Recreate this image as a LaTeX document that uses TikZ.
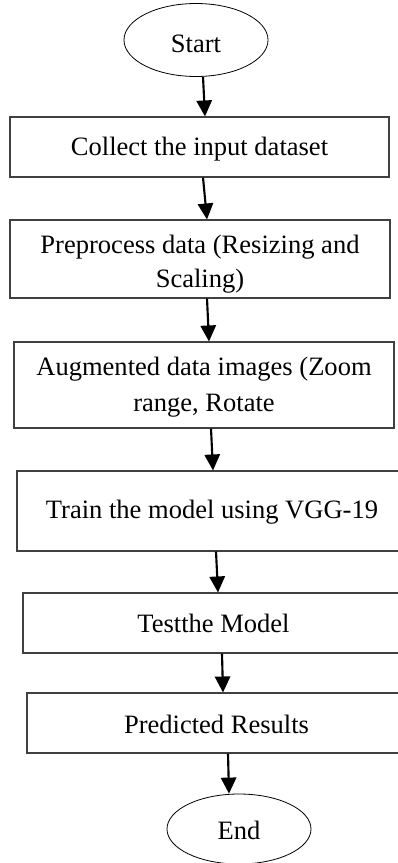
\documentclass[tikz,border=0pt]{standalone}
\usepackage{fontspec}
\setmainfont{Liberation Serif}
\usetikzlibrary{arrows.meta,calc,shapes.geometric}

\tikzset{
  stepbox/.style={draw=black!75, line width=0.8pt, rectangle, inner sep=0pt},
  terminal/.style={draw=black, line width=0.6pt, ellipse, inner sep=0pt},
  steptext/.style={inner sep=0pt, align=center, font=\fontsize{19.9}{26.5}\selectfont},
  flow/.style={line width=1.6pt, -{Triangle[length=12pt,width=11.5pt]}}
}

\begin{document}
\begin{tikzpicture}[x=0.75pt, y=-0.75pt]
  \clip (0,0) rectangle (398,863);
  \useasboundingbox (0,0) rectangle (398,863);

  % start / end terminals
  \node[terminal, minimum width=144*0.75pt, minimum height=73*0.75pt] (start) at (196,40) {};
  \node[terminal, minimum width=144*0.75pt, minimum height=70*0.75pt] (finish) at (239,829) {};

  % process steps
  \node[stepbox, minimum width=379*0.75pt, minimum height=60*0.75pt] (collect) at (199.5,147) {};
  \node[stepbox, minimum width=380*0.75pt, minimum height=78*0.75pt] (prep) at (200,259) {};
  \node[stepbox, minimum width=380*0.75pt, minimum height=86*0.75pt] (augment) at (204,385) {};
  \node[stepbox, minimum width=390*0.75pt, minimum height=80*0.75pt] (train) at (212,511) {};
  \node[stepbox, minimum width=381*0.75pt, minimum height=60*0.75pt] (test) at (213.5,623) {};
  \node[stepbox, minimum width=379*0.75pt, minimum height=60*0.75pt] (predict) at (216.5,723) {};

  % labels
  \node[steptext] (startlbl) at ($(start.center)+(0,4)$) {Start};
  \node[steptext] (finishlbl) at ($(finish.center)+(0,1)$) {End};
  \node[steptext] (collectlbl) at ($(collect.center)+(0,2)$) {Collect the input dataset};
  \node[steptext, font=\fontsize{19.9}{25.5}\selectfont] (preplbl) at ($(prep.center)+(0,5)$)
    {Preprocess data (Resizing and\\Scaling)};
  \node[steptext] (augmentlbl) at ($(augment.center)+(0,2)$) {Augmented data images (Zoom\\range, Rotate};
  \node[steptext] (trainlbl) at ($(train.center)+(0,1)$) {Train the model using VGG-19};
  \node[steptext] (testlbl) at (test.center) {Testthe Model};
  \node[steptext] (predictlbl) at ($(predict.center)+(0,1)$) {Predicted Results};

  % connectors
  \draw[flow] ($(start.south)+(7,0)$) -- ($(collect.north)+(5.5,0)$);
  \draw[flow] ($(collect.south)+(3.5,0)$) -- ($(prep.north)+(7,0)$);
  \draw[flow] ($(prep.south)+(7,0)$) -- ($(augment.north)+(5,0)$);
  \draw[flow] ($(augment.south)+(7,0)$) -- ($(train.north)+(1,0)$);
  \draw[flow] ($(train.south)+(4,0)$) -- ($(test.north)+(4.5,0)$);
  \draw[flow] ($(test.south)+(8.5,0)$) -- ($(predict.north)+(6.5,0)$);
  \draw[flow] ($(predict.south)+(11.5,0)$) -- ($(finish.north)+(-10,0)$);
\end{tikzpicture}
\end{document}
